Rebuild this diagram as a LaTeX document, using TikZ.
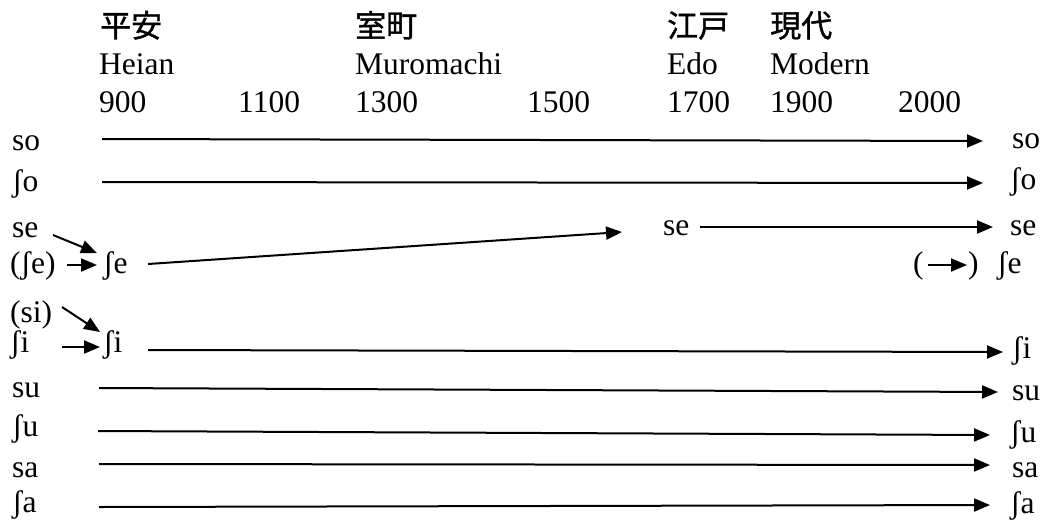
\documentclass[tikz,border=0pt]{standalone}
\usepackage{fontspec}
\setmainfont{Liberation Serif}
\newfontfamily\jp[FakeBold=1.2]{Noto Sans CJK JP}
\usetikzlibrary{arrows.meta}
\begin{document}
\begin{tikzpicture}[x=1pt,y=-1pt,
  lbl/.style={anchor=base west,inner sep=0pt,font=\fontsize{31.5}{36}\selectfont},
  jlbl/.style={anchor=base west,inner sep=0pt,font=\fontsize{31}{36}\selectfont\jp},
  arr/.style={line width=2pt,-{Triangle[length=16pt,width=13pt]}}]
\useasboundingbox (0,0) rectangle (1048,520);
% header
\node[jlbl] (jheian) at (100,37) {平安};
\node[jlbl] (jmuro) at (355,37) {室町};
\node[jlbl] (jedo) at (667,37) {江戸};
\node[jlbl] (jmod) at (770,37) {現代};
\node[lbl] (eheian) at (99,74) {Heian};
\node[lbl] (emuro) at (355,74) {Muromachi};
\node[lbl] (eedo) at (667,74) {Edo};
\node[lbl] (emod) at (770,74) {Modern};
\node[lbl] (y900) at (99,112) {900};
\node[lbl] (y1100) at (238,112) {1100};
\node[lbl] (y1300) at (355,112) {1300};
\node[lbl] (y1500) at (527,112) {1500};
\node[lbl] (y1700) at (667,112) {1700};
\node[lbl] (y1900) at (770,112) {1900};
\node[lbl] (y2000) at (898,112) {2000};
% left labels
\node[lbl] (lso) at (12,150) {so};
\node[lbl] (lsho) at (12,191) {ʃo};
\node[lbl] (lse) at (12,237) {se};
\node[lbl] (lshe) at (10,273) {(ʃe)};
\node[lbl] (lsi) at (10,322) {(si)};
\node[lbl] (lshi) at (10,352) {ʃi};
\node[lbl] (lsu) at (12,397) {su};
\node[lbl] (lshu) at (12,436) {ʃu};
\node[lbl] (lsa) at (12,477) {sa};
\node[lbl] (lsha) at (12,512) {ʃa};
% middle labels
\node[lbl] (mshe) at (103,273) {ʃe};
\node[lbl] (mshi) at (103,352) {ʃi};
\node[lbl] (mse) at (663,235) {se};
\node[lbl] (pl) at (913,273) {(};
\node[lbl] (pr) at (968,273) {)};
% right labels
\node[lbl] (rso) at (1012,148) {so};
\node[lbl] (rsho) at (1010,189) {ʃo};
\node[lbl] (rse) at (1010,235) {se};
\node[lbl] (rshe) at (997,273) {ʃe};
\node[lbl] (rshi) at (1012,358) {ʃi};
\node[lbl] (rsu) at (1012,400) {su};
\node[lbl] (rshu) at (1010,442) {ʃu};
\node[lbl] (rsa) at (1012,477) {sa};
\node[lbl] (rsha) at (1010,513) {ʃa};
% connector end points
\coordinate (so-a) at (102,139);  \coordinate (so-b) at (983,141);
\coordinate (sho-a) at (102,182); \coordinate (sho-b) at (983,183);
\coordinate (se-a) at (53,235);   \coordinate (se-b) at (97,253);
\coordinate (she-a) at (67,265);  \coordinate (she-b) at (97,265);
\coordinate (mshe-a) at (148,264); \coordinate (mshe-b) at (622,232);
\coordinate (mse-a) at (700,227); \coordinate (mse-b) at (993,227);
\coordinate (par-a) at (928,265); \coordinate (par-b) at (967,265);
\coordinate (si-a) at (62,307);   \coordinate (si-b) at (100,332);
\coordinate (shi-a) at (62,347);  \coordinate (shi-b) at (100,347);
\coordinate (mshi-a) at (148,350); \coordinate (mshi-b) at (1003,352);
\coordinate (su-a) at (99,388);   \coordinate (su-b) at (998,392);
\coordinate (shu-a) at (98,431);  \coordinate (shu-b) at (990,435);
\coordinate (sa-a) at (99,464);   \coordinate (sa-b) at (990,465);
\coordinate (sha-a) at (99,507);  \coordinate (sha-b) at (990,505);
% connectors
\draw[arr] (so-a) -- (so-b);
\draw[arr] (sho-a) -- (sho-b);
\draw[arr] (se-a) -- (se-b);
\draw[arr] (she-a) -- (she-b);
\draw[arr] (mshe-a) -- (mshe-b);
\draw[arr] (mse-a) -- (mse-b);
\draw[arr] (par-a) -- (par-b);
\draw[arr] (si-a) -- (si-b);
\draw[arr] (shi-a) -- (shi-b);
\draw[arr] (mshi-a) -- (mshi-b);
\draw[arr] (su-a) -- (su-b);
\draw[arr] (shu-a) -- (shu-b);
\draw[arr] (sa-a) -- (sa-b);
\draw[arr] (sha-a) -- (sha-b);
\end{tikzpicture}
\end{document}
